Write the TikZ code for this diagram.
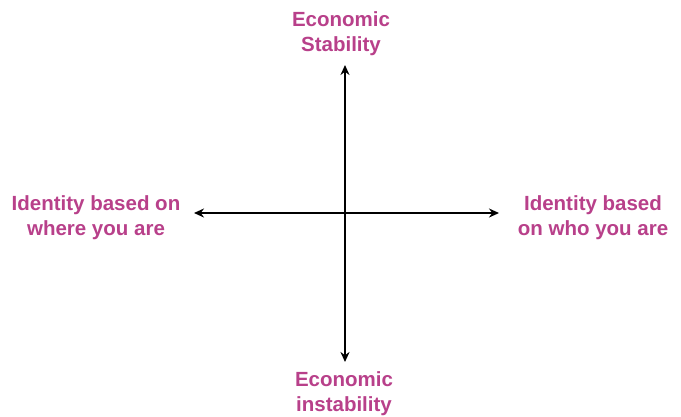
\documentclass[tikz,border=0pt]{standalone}
\usepackage{fontspec}
\setmainfont{Liberation Sans}
\usetikzlibrary{arrows.meta}
\definecolor{axislabel}{RGB}{184,64,138}
\tikzset{
  label text/.style={text=axislabel,font=\fontsize{20.5}{25}\selectfont\bfseries,align=center,inner sep=0pt},
  axis/.style={line width=2.2pt,{Stealth[length=10pt,width=9pt]}-{Stealth[length=10pt,width=9pt]}}
}
\begin{document}
\begin{tikzpicture}[x=1pt,y=-1pt]
\useasboundingbox (0,0) rectangle (681,416);
\coordinate (up) at (345,65);
\coordinate (down) at (345,362);
\coordinate (left) at (194,213);
\coordinate (right) at (499,213);
\node[label text] (stable) at (341,34) {Economic\\Stability};
\node[label text] (unstable) at (344,394) {Economic\\instability};
\node[label text] (place) at (96,218) {Identity based on\\where you are};
\node[label text] (person) at (593,218) {Identity based\\on who you are};
\draw[axis] (up) -- (down);
\draw[axis] (left) -- (right);
\end{tikzpicture}
\end{document}
